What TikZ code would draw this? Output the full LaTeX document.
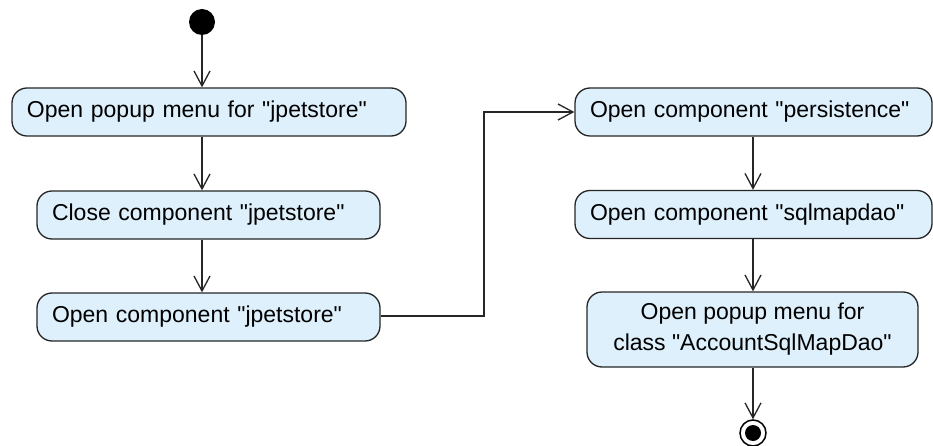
\documentclass[tikz,border=0pt]{standalone}
\usepackage{fontspec}
\setmainfont{Liberation Sans}
\usetikzlibrary{arrows.meta}
\definecolor{actfill}{HTML}{DDF0FC}
\definecolor{actline}{HTML}{262626}
\newcommand{\qq}[1]{\textquotedbl #1\textquotedbl}
\begin{document}
\begin{tikzpicture}[x=1pt,y=-1pt,
  action/.style={draw=actline, fill=actfill, line width=1.3pt,
    rounded corners=15pt, inner xsep=15pt, inner ysep=0pt,
    minimum height=48pt, font=\fontsize{23}{31}\selectfont},
  lefttext/.style={minimum width=#1, text width=#1-30pt, align=left},
  flow/.style={draw=actline, line width=1.3pt,
    -{Straight Barb[length=15pt,width=16pt,line width=1.3pt]}}]
\useasboundingbox (0,0) rectangle (933,446);

% initial node
\node[circle, fill=black, minimum size=26pt, inner sep=0pt] (start) at (202,22) {};

% left column
\node[action, lefttext=394pt] (a1) at (209,112) {Open popup menu for \qq{jpetstore}};
\node[action, lefttext=343pt] (a2) at (208.5,215) {Close component \qq{jpetstore}};
\node[action, lefttext=343pt] (a3) at (208.5,317) {Open component \qq{jpetstore}};

% right column
\node[action, lefttext=357pt] (a4) at (753.5,112) {Open component \qq{persistence}};
\node[action, lefttext=357pt] (a5) at (753.5,214.5) {Open component \qq{sqlmapdao}};
\node[action, minimum width=331pt, minimum height=75pt, align=center] (a6) at (752.5,329.5) {Open popup menu for\\class \qq{AccountSqlMapDao}};

% final node
\node[circle, draw=black, line width=1.5pt, fill=white, minimum size=26pt, inner sep=0pt] (fin) at (753,433) {};
\node[circle, fill=black, minimum size=16pt, inner sep=0pt] (finin) at (fin) {};

% control flow
\coordinate (bend1) at (484,316);
\coordinate (bend2) at (484,112);
\draw[flow] (start) -- (a1.north -| start);
\draw[flow] (a1.south -| start) -- (a2.north -| start);
\draw[flow] (a2.south -| start) -- (a3.north -| start);
\draw[flow] (a3.east |- bend1) -- (bend1) -- (bend2) -- (a4.west);
\draw[flow] (a4.south -| fin) -- (a5.north -| fin);
\draw[flow] (a5.south -| fin) -- (a6.north -| fin);
\draw[flow] (a6.south -| fin) -- (fin.north);
\end{tikzpicture}
\end{document}
